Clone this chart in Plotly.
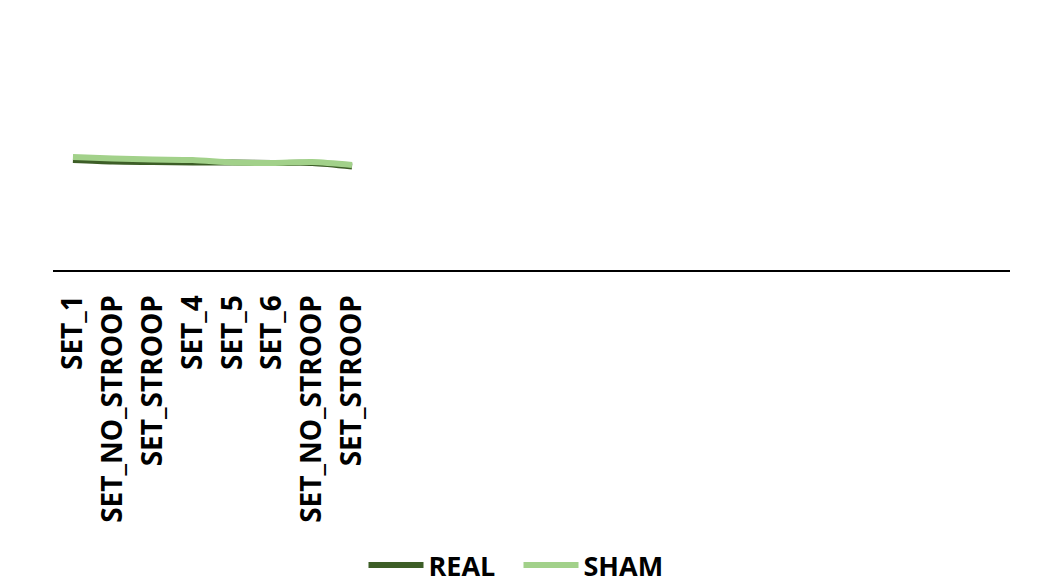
import plotly.graph_objects as go

# Session labels shown on the category axis (remaining slots are unlabeled)
labels = ["SET_1", "SET_NO_STROOP", "SET_STROOP", "SET_4", "SET_5", "SET_6",
          "SET_NO_STROOP", "SET_STROOP"]
n_slots = 24

real = [1.100, 1.085, 1.080, 1.075, 1.075, 1.070, 1.070, 1.035]
sham = [1.130, 1.115, 1.105, 1.100, 1.075, 1.070, 1.080, 1.050]

positions = list(range(len(labels)))

fig = go.Figure()
fig.add_trace(go.Scatter(
    x=positions, y=real, name="REAL", mode="lines",
    line=dict(color="#3d5e27", width=6, shape="spline", smoothing=0.8),
))
fig.add_trace(go.Scatter(
    x=positions, y=sham, name="SHAM", mode="lines",
    line=dict(color="#a2d18a", width=6, shape="spline", smoothing=0.8),
))

fig.update_layout(
    width=1037, height=583,
    margin=dict(l=53, r=27, t=20, b=313),
    paper_bgcolor="white", plot_bgcolor="white",
    font=dict(family="Open Sans", color="black"),
    showlegend=True,
    legend=dict(orientation="h", xref="container", x=0.5, xanchor="center",
                yref="container", y=0.03, yanchor="middle",
                font=dict(size=27, family="Open Sans", weight="bold"),
                itemwidth=55, entrywidth=85, entrywidthmode="pixels",
                tracegroupgap=0),
    xaxis=dict(
        range=[-0.5, n_slots - 0.5],
        tickmode="array", tickvals=positions, ticktext=labels,
        tickangle=-90, tickfont=dict(size=28, family="Open Sans", weight="bold"),
        showline=True, linecolor="black", linewidth=2,
        showgrid=False, zeroline=False, ticks="", ticklabelstandoff=12,
    ),
    yaxis=dict(range=[0, 2.5], visible=False, showgrid=False, zeroline=False),
)

fig.write_html("out.html")
